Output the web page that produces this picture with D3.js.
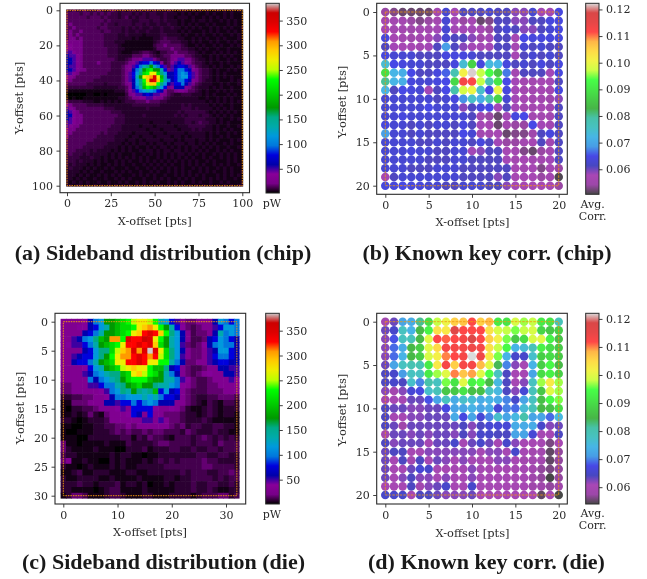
<!DOCTYPE html>
<html>
<head>
<meta charset="utf-8">
<script src="https://cdn.jsdelivr.net/npm/d3@7"></script>
<style>
  html, body { margin: 0; padding: 0; background: #fff; }
  svg { display: block; filter: blur(0.35px); }
</style>
</head>
<body>
<div id="chart"></div>
<script>
// nipy_spectral, position / r / g / b
const cmapPos = [0, .05, .1, .15, .2, .25, .3, .35, .4, .45, .5, .55, .6, .65, .7, .75, .8, .85, .9, .95, 1];
const cmapR = [0, 119, 136, 0, 0, 0, 0, 0, 0, 0, 0, 0, 0, 187, 238, 255, 255, 255, 221, 204, 204];
const cmapG = [0, 0, 0, 0, 0, 119, 153, 170, 170, 153, 187, 221, 255, 255, 238, 204, 153, 0, 0, 0, 204];
const cmapB = [0, 136, 153, 170, 221, 221, 221, 170, 136, 0, 0, 0, 0, 0, 0, 0, 0, 0, 0, 0, 204];

// one character per cell, index into the level tables (pW), spaces only group the columns
const levelCodes = '0123456789abcdefghijklmnop';
const chipLevels = [1, 4, 7, 10, 14, 20, 30, 48, 60, 78, 97, 116, 135, 155, 174, 193, 212, 231, 251, 270, 289, 308, 327, 347, 366, 385];
const dieLevels = [1, 4, 8, 12, 17, 30, 40, 50, 60, 78, 97, 116, 135, 155, 174, 193, 212, 231, 251, 270, 289, 308, 327, 347, 366, 385];

// chip map, read every 2 pts
const chipPower = [
  '3343343334 3234323233 2323232223 2122212121 2112121212 1',
  '4444344343 4343323332 3232332232 2212121211 2121121211 1',
  '4444443444 3433323423 2332333232 2122212112 1212121211 1',
  '4444444444 4343333332 2333233232 2212112122 1211212121 1',
  '4544444444 3433233332 3323223223 2212121211 2121112121 1',
  '4454444443 4433332323 2322322322 3221212121 1212121211 2',
  '4544544444 3443332322 3223222322 2212121112 1212112121 1',
  '4545444444 4333322322 2212222332 2221211212 1121211212 1',
  '4554544444 4333322221 2111122343 3322112121 2112121112 1',
  '5555544444 4333222111 1111123444 3332212121 1212112121 1',
  '5655544444 4333321111 1111134454 4443211212 1121211212 1',
  '6655544444 4433322111 1111124444 5443322121 2112112111 1',
  '7765544444 4433321112 2344321334 4544433212 1121212121 1',
  '8776544444 4433322224 4455432344 5555443221 1212121211 1',
  '8876544444 4444322345 5677754334 5677554322 1212112121 1',
  '8876544445 4443333456 7899a98634 6787654332 1211212111 1',
  '8776544444 4443334567 9acdeca974 7899875432 2121211212 1',
  '8876554444 4443334568 acegheec95 79aa986543 3212112121 1',
  '7765444444 4433334579 bdghjjgdb8 89aba97543 3212121111 2',
  '6654444444 3333334579 cejklnjfc8 89abb97543 3212121211 1',
  '5544444433 3333334578 bdhkonkgca 89aa986543 2212111212 1',
  '4444443333 3233334568 bdgikkhdb8 799a875432 2211212112 1',
  '3333333322 2222233468 acfhgfdb95 6888654322 2121211211 1',
  '2111111111 1111222467 9abcba9864 4566544321 2112121211 1',
  '0000001100 1011111356 7789877654 3223332221 2121112121 1',
  '1010011111 1111122345 5667765543 2222222211 2112121211 1',
  '4333322211 2121212333 4445444332 2222222222 1212121212 1',
  '6544443333 3222222223 3333333222 2223232222 2121211211 1',
  '7654444444 4333222222 2223222222 2223332322 2212121211 1',
  '8765444444 4443332222 2222222222 2232333333 2121212121 1',
  '8865544444 4444433222 2232222222 2323233323 3212121211 1',
  '8765544444 4444333222 2222222222 2222333333 2221211212 1',
  '7765544444 4444333222 2222122221 2222332343 3221212111 1',
  '7655444444 4443332222 2122212222 2122233333 2212112112 1',
  '6554444444 4433332222 2221222122 2212223232 2212121211 1',
  '5544444444 3433322221 2222122212 2222122222 1212112121 1',
  '5444444443 3333222212 2122212222 1221212222 1211212111 1',
  '4444444433 3333222122 1212222122 2121222122 1212111212 1',
  '4444443333 3322221212 1221212212 1222122121 2121121211 1',
  '4444433333 3222212121 2112121221 2121212212 1212112112 1',
  '4443333232 2221212121 1212212122 1221212121 2112121211 1',
  '3433323222 2212121112 1121212121 2122121212 1121212121 1',
  '3333222322 1212121212 1212112121 2121212112 1211212121 1',
  '3332322212 1211212121 1212121212 1212121211 2121112121 1',
  '3232221212 1121212112 1121212121 2112121212 1121212112 1',
  '2322212121 1212111211 2112121212 1212112121 2112121211 1',
  '2222121211 2111212121 1211212112 1212121121 2121121211 2',
  '2221212112 1212121112 1212121121 1212121212 1112121212 1',
  '2212121121 1211212121 1121121212 1121212112 1212121121 1',
  '2121212112 1121121211 2121212112 1212112121 1211212111 2',
  '2212212121 2121212121 2121121212 1212121212 1212121212 2'
];

// die map, one cell per pt
const diePower = [
  '5555 68ab eefg hijj ihcb 9754 4555 8ba9 a',
  '5556 689b cefg ghjk ljhe c964 3455 79bb a',
  '5555 89ac eefg hjkm nmkh db85 3445 8cab a',
  '5578 abdf ellh nmmo njhe cb85 3348 9ba9 8',
  '5677 9ace fghj mmnm nkge cb74 3468 abaa 8',
  '5555 89bd dgik lnln pnjg db85 4457 8bb9 8',
  '5578 99bd ehjl lmnm lmig db75 4457 9aa9 8',
  '5589 9ace fgjj mmnm jjhh ca84 4557 8998 8',
  '5555 69bc efgi jkjj hffd 8954 3345 5887 7',
  '5555 78ab cddf gjki hgec a854 3456 5588 7',
  '5555 5a8a bcde ghhh feec ca76 4334 5557 6',
  '4455 5779 aacd efge edcc ba65 4334 4555 5',
  '4455 5556 7abd cedc df9b 8954 3334 4455 5',
  '2233 4455 68aa bbbc bca9 9854 3223 3444 3',
  '1144 4555 8879 9a9a ba88 8554 3213 2133 2',
  '1022 3345 5567 5999 9655 6542 1123 2122 2',
  '1121 2421 4555 6985 9554 4432 2123 2122 1',
  '2210 1222 3555 5557 7575 4432 2232 1111 1',
  '1100 1122 3344 5455 5555 4342 3322 3322 1',
  '1001 1122 2343 4334 3443 3324 3222 3221 1',
  '1110 0222 2223 3132 4332 1333 2343 2323 2',
  '4110 1111 2111 3222 2344 3333 2333 2433 3',
  '4211 1121 1100 2223 1222 3322 3223 3233 3',
  '3221 1111 1212 2110 1122 2222 2332 2332 2',
  '4511 2110 0212 1112 1232 3233 3343 3222 2',
  '2110 1211 1212 1122 2223 3333 3344 3333 2',
  '1123 1122 2111 2211 2222 2232 3332 2334 3',
  '2112 2221 1211 1121 1112 2122 3333 2323 3',
  '2223 2212 2231 2212 0112 1222 3223 3223 2',
  '2211 1101 2331 1112 1111 1222 3223 2112 2',
  '1244 3111 2332 1112 2111 2222 1233 3442 3'
];

// average correlation x 1000
const chipCorr = [
  [54,53,52,52,52,52,56,63,58,61,61,61,63,61,61,59,59,63,58,58,64],
  [56,56,56,54,53,54,56,63,58,54,57,52,53,61,61,59,59,61,61,64,64],
  [57,56,56,55,56,56,58,63,58,58,58,57,54,61,63,61,59,59,61,63,64],
  [64,57,56,55,56,57,59,63,61,61,59,55,58,61,61,57,65,64,64,64,64],
  [61,58,57,57,56,58,61,69,61,59,58,58,58,61,61,57,63,61,63,61,61],
  [64,63,63,63,61,61,61,64,64,64,63,61,61,61,61,57,61,63,61,63,61],
  [74,65,64,63,63,61,61,61,64,74,87,64,73,72,64,61,63,61,64,61,64],
  [89,72,71,65,61,61,64,66,78,101,122,97,93,85,67,56,61,61,61,58,64],
  [80,72,71,64,63,63,64,65,88,113,112,97,78,90,65,58,56,56,57,57,61],
  [72,61,65,64,63,58,61,65,79,98,100,75,65,100,64,58,56,56,57,56,64],
  [63,63,63,63,63,63,61,63,64,68,75,71,78,87,63,58,57,56,56,55,59],
  [63,63,63,63,63,65,63,63,63,59,61,64,65,58,61,58,56,56,57,56,61],
  [63,63,64,63,63,63,63,63,63,63,61,56,54,52,58,64,65,56,56,56,61],
  [64,63,63,61,63,61,63,63,61,64,61,58,57,52,56,54,54,65,58,56,61],
  [69,63,63,61,63,61,61,61,61,65,63,56,56,57,52,53,53,55,61,64,61],
  [63,63,63,63,61,61,63,61,63,63,61,64,61,58,54,54,56,57,61,56,61],
  [63,63,63,64,63,63,61,61,63,63,58,59,61,61,57,56,53,52,54,56,61],
  [63,63,63,63,63,61,61,61,63,63,61,61,61,61,58,56,57,56,56,58,61],
  [63,63,63,61,61,61,63,63,63,61,61,61,61,61,61,57,56,57,53,57,54],
  [57,61,63,63,63,63,63,63,63,61,61,61,61,59,61,57,57,57,54,56,51],
  [64,64,65,64,64,63,63,61,61,63,63,63,61,61,59,58,57,57,57,57,54]
];

const dieCorr = [
  [59,63,72,73,82,90,98,101,106,107,112,106,108,92,91,99,97,98,92,91,79],
  [63,65,78,74,85,93,104,103,117,112,112,112,104,99,98,96,98,99,89,87,88],
  [62,68,78,79,85,100,112,111,112,113,118,112,106,102,96,87,90,99,100,93,86],
  [62,69,73,85,88,100,105,113,113,113,114,113,104,98,94,74,76,79,93,90,87],
  [62,69,74,85,88,99,102,110,112,113,122,114,103,96,74,65,65,77,88,90,87],
  [63,72,78,80,80,92,103,113,106,113,113,108,100,84,70,62,60,74,88,94,85],
  [64,65,71,78,78,92,97,100,110,107,109,100,95,78,64,60,60,72,90,93,88],
  [64,65,64,77,70,81,78,96,91,100,93,95,85,75,64,60,62,78,97,103,97],
  [62,59,62,66,67,77,79,87,87,91,86,86,78,75,64,62,66,79,87,100,97],
  [59,60,60,63,63,68,72,78,73,77,76,73,74,73,70,65,72,78,86,94,96],
  [64,63,63,62,62,63,63,67,72,72,74,72,73,66,70,69,76,79,85,86,90],
  [64,60,60,62,62,63,63,63,73,67,72,66,70,77,72,75,81,72,72,69,75],
  [64,63,58,63,63,63,63,63,63,64,62,64,66,66,66,73,73,73,65,62,63],
  [59,63,63,62,63,62,63,63,62,64,62,65,65,64,64,72,72,66,60,60,64],
  [64,62,63,63,63,60,63,63,65,60,63,65,63,60,65,62,60,60,60,56,60],
  [63,64,64,60,60,62,62,62,62,62,62,60,62,62,60,65,60,59,59,55,57],
  [63,60,64,59,64,60,63,62,60,62,60,60,60,62,62,60,59,59,59,55,57],
  [63,60,60,63,66,65,60,60,60,60,62,60,60,60,60,60,60,59,57,56,57],
  [63,60,62,64,62,62,60,62,60,60,62,60,60,60,60,60,60,58,57,54,57],
  [60,60,60,64,59,62,63,65,60,60,65,60,60,60,60,60,60,58,58,57,58],
  [65,65,65,60,64,64,63,62,62,62,63,60,60,60,60,60,60,60,55,60,54]
];

const xTicksA = [0, 25, 50, 75, 100];
const yTicksA = [0, 20, 40, 60, 80, 100];
const xTicksC = [0, 10, 20, 30];
const yTicksC = [0, 5, 10, 15, 20, 25, 30];
const ticksCorr = [0, 5, 10, 15, 20];
const powerTicks = [50, 100, 150, 200, 250, 300, 350];
const corrTicks = [0.06, 0.07, 0.08, 0.09, 0.10, 0.11, 0.12];

const width = 647;
const height = 579;
const serif = '"DejaVu Serif", serif';
const inkColor = '#2a2a2a';

const cmapColors = cmapPos.map((p, i) => d3.rgb(cmapR[i], cmapG[i], cmapB[i]));
const cmap = d3.scaleLinear().domain(cmapPos).range(cmapColors).interpolate(d3.interpolateRgb).clamp(true);
const powerFrac = d3.scaleLinear().domain([1, 385]).range([0, 1]);

const svg = d3.select('#chart').append('svg')
  .attr('width', width)
  .attr('height', height)
  .attr('font-family', serif);

let gradientId = 0;

function drawAxes(g, box, x, y, xTicks, yTicks, xLabel, yLabel) {
  g.append('rect')
    .attr('x', box.left).attr('y', box.top)
    .attr('width', box.right - box.left).attr('height', box.bottom - box.top)
    .attr('fill', 'none').attr('stroke', inkColor).attr('stroke-width', 1.1);

  const ax = g.append('g').attr('transform', `translate(0,${box.bottom})`)
    .call(d3.axisBottom(x).tickValues(xTicks).tickSize(3.5).tickPadding(3.5).tickFormat(d3.format('d')));
  const ay = g.append('g').attr('transform', `translate(${box.left},0)`)
    .call(d3.axisLeft(y).tickValues(yTicks).tickSize(3.5).tickPadding(3.5).tickFormat(d3.format('d')));
  [ax, ay].forEach(a => {
    a.select('.domain').remove();
    a.selectAll('line').attr('stroke', inkColor).attr('stroke-width', 0.9);
    a.selectAll('text').attr('fill', inkColor).attr('font-family', serif).attr('font-size', 11);
  });

  g.append('text').attr('x', xLabel.x).attr('y', xLabel.y)
    .attr('text-anchor', 'middle').attr('font-size', 11.4).attr('fill', inkColor).text('X-offset [pts]');
  g.append('text').attr('transform', `translate(${yLabel.x},${yLabel.y}) rotate(-90)`)
    .attr('text-anchor', 'middle').attr('font-size', 11.4).attr('fill', inkColor).text('Y-offset [pts]');
}

function drawBorder(g, x, y, xMax, yMax, dash, sw) {
  g.append('rect')
    .attr('x', x(0)).attr('y', y(0))
    .attr('width', x(xMax) - x(0)).attr('height', y(yMax) - y(0))
    .attr('fill', 'none').attr('stroke', '#f0980c')
    .attr('stroke-width', sw).attr('stroke-dasharray', dash);
}

function drawColorbar(g, box, scale, ticks, fmt, alpha, unit) {
  const id = 'cb' + (gradientId++);
  const grad = svg.append('defs').append('linearGradient').attr('id', id)
    .attr('x1', 0).attr('y1', 1).attr('x2', 0).attr('y2', 0);
  cmapPos.forEach((p, i) => {
    grad.append('stop').attr('offset', p)
      .attr('stop-color', cmapColors[i].formatHex()).attr('stop-opacity', alpha);
  });
  g.append('rect')
    .attr('x', box.left).attr('y', box.top)
    .attr('width', box.right - box.left).attr('height', box.bottom - box.top)
    .attr('fill', `url(#${id})`).attr('stroke', inkColor).attr('stroke-width', 1);
  const a = g.append('g').attr('transform', `translate(${box.right},0)`)
    .call(d3.axisRight(scale).tickValues(ticks).tickSize(3.5).tickPadding(3.5).tickFormat(fmt));
  a.select('.domain').remove();
  a.selectAll('line').attr('stroke', inkColor).attr('stroke-width', 0.9);
  a.selectAll('text').attr('fill', inkColor).attr('font-family', serif).attr('font-size', 11);
  unit.lines.forEach((t, i) => {
    g.append('text').attr('x', unit.x).attr('y', unit.y + i * 12)
      .attr('text-anchor', 'middle').attr('font-size', 11).attr('fill', inkColor).text(t);
  });
}

function drawTitle(t, x, y) {
  svg.append('text').attr('x', x).attr('y', y)
    .attr('text-anchor', 'middle')
    .attr('font-family', '"Liberation Serif", serif')
    .attr('font-weight', 'bold').attr('font-size', 22)
    .attr('fill', '#1a1a1a').text(t);
}

function drawHeatmap(g, rows, levels, step, x, y, xMax, yMax) {
  const cells = [];
  rows.forEach((row, j) => {
    row.replace(/ /g, '').split('').forEach((c, i) => {
      cells.push({ i: i * step, j: j * step, v: levels[levelCodes.indexOf(c)] });
    });
  });
  const x0 = d => x(Math.max(d.i - step / 2, -0.5));
  const x1 = d => x(Math.min(d.i + step / 2, xMax + 0.5));
  const y0 = d => y(Math.max(d.j - step / 2, -0.5));
  const y1 = d => y(Math.min(d.j + step / 2, yMax + 0.5));
  g.selectAll('rect.cell').data(cells).enter().append('rect')
    .attr('class', 'cell')
    .attr('x', x0).attr('y', y0)
    // slight overlap so no seams show between cells
    .attr('width', d => x1(d) - x0(d) + (d.i < xMax ? 0.6 : 0))
    .attr('height', d => y1(d) - y0(d) + (d.j < yMax ? 0.6 : 0))
    .attr('fill', d => cmap(powerFrac(d.v)));
}

function drawDots(g, rows, x, y, frac) {
  const dots = [];
  rows.forEach((row, j) => row.forEach((v, i) => dots.push({ i, j, v: v / 1000 })));
  g.selectAll('circle.dot').data(dots).enter().append('circle')
    .attr('class', 'dot')
    .attr('cx', d => x(d.i)).attr('cy', d => y(d.j)).attr('r', 4.3)
    .attr('fill', d => cmap(frac(d.v))).attr('fill-opacity', 0.72);
}

// (a) sideband distribution, chip
{
  const g = svg.append('g');
  const box = { left: 60, right: 249.5, top: 3.3, bottom: 192.7 };
  const x = d3.scaleLinear().domain([0, 100]).range([67, 242.3]);
  const y = d3.scaleLinear().domain([0, 100]).range([10.3, 185.7]);
  drawHeatmap(g, chipPower, chipLevels, 2, x, y, 100, 100);
  drawBorder(g, x, y, 100, 100, '1.5 1', 1);
  drawAxes(g, box, x, y, xTicksA, yTicksA, { x: 154.7, y: 225 }, { x: 23, y: 98 });
  const cb = d3.scaleLinear().domain([1, 385]).range([193, 3.3]);
  drawColorbar(g, { left: 266, right: 279.3, top: 3.3, bottom: 193 }, cb, powerTicks, d3.format('d'), 1, { x: 272, y: 207, lines: ['pW'] });
  drawTitle('(a) Sideband distribution (chip)', 163, 260);
}

// (b) known key correlation, chip
{
  const g = svg.append('g');
  const box = { left: 376.7, right: 567.3, top: 3.3, bottom: 194.3 };
  const x = d3.scaleLinear().domain([0, 20]).range([385.3, 558.7]);
  const y = d3.scaleLinear().domain([0, 20]).range([12, 185.7]);
  const frac = d3.scaleLinear().domain([0.0506, 0.1223]).range([0, 1]);
  drawDots(g, chipCorr, x, y, frac);
  drawBorder(g, x, y, 20, 20, '2.5 1.2', 0.8);
  drawAxes(g, box, x, y, ticksCorr, ticksCorr, { x: 472.5, y: 226 }, { x: 346, y: 102 });
  const cb = d3.scaleLinear().domain([0.0506, 0.1223]).range([194.3, 3.3]);
  drawColorbar(g, { left: 585.7, right: 599, top: 3.3, bottom: 194.3 }, cb, corrTicks, d3.format('.2f'), 0.72, { x: 592.7, y: 208, lines: ['Avg.', 'Corr.'] });
  drawTitle('(b) Known key corr. (chip)', 487, 260);
}

// (c) sideband distribution, die
{
  const g = svg.append('g');
  const box = { left: 55, right: 245.7, top: 313.3, bottom: 504 };
  const x = d3.scaleLinear().domain([0, 30]).range([63.3, 226]);
  const y = d3.scaleLinear().domain([0, 30]).range([321.7, 495.7]);
  drawHeatmap(g, diePower, dieLevels, 1, x, y, 32, 30);
  drawBorder(g, x, y, 32, 30, '1.5 1', 1);
  drawAxes(g, box, x, y, xTicksC, yTicksC, { x: 150, y: 536 }, { x: 24, y: 408 });
  const cb = d3.scaleLinear().domain([1, 385]).range([504, 313.3]);
  drawColorbar(g, { left: 265.7, right: 279.3, top: 313.3, bottom: 504 }, cb, powerTicks, d3.format('d'), 1, { x: 272, y: 518, lines: ['pW'] });
  drawTitle('(c) Sideband distribution (die)', 163.5, 569);
}

// (d) known key correlation, die
{
  const g = svg.append('g');
  const box = { left: 376.7, right: 567.3, top: 313.3, bottom: 504 };
  const x = d3.scaleLinear().domain([0, 20]).range([385.3, 558.7]);
  const y = d3.scaleLinear().domain([0, 20]).range([321.7, 495]);
  const frac = d3.scaleLinear().domain([0.054, 0.122]).range([0, 1]);
  drawDots(g, dieCorr, x, y, frac);
  drawBorder(g, x, y, 20, 20, '2.5 1.2', 0.8);
  drawAxes(g, box, x, y, ticksCorr, ticksCorr, { x: 472.5, y: 536.5 }, { x: 346, y: 410 });
  const cb = d3.scaleLinear().domain([0.054, 0.122]).range([504, 313.3]);
  drawColorbar(g, { left: 585.7, right: 599, top: 313.3, bottom: 504 }, cb, corrTicks, d3.format('.2f'), 0.72, { x: 592.7, y: 517, lines: ['Avg.', 'Corr.'] });
  drawTitle('(d) Known key corr. (die)', 486.5, 569);
}
</script>
</body>
</html>
